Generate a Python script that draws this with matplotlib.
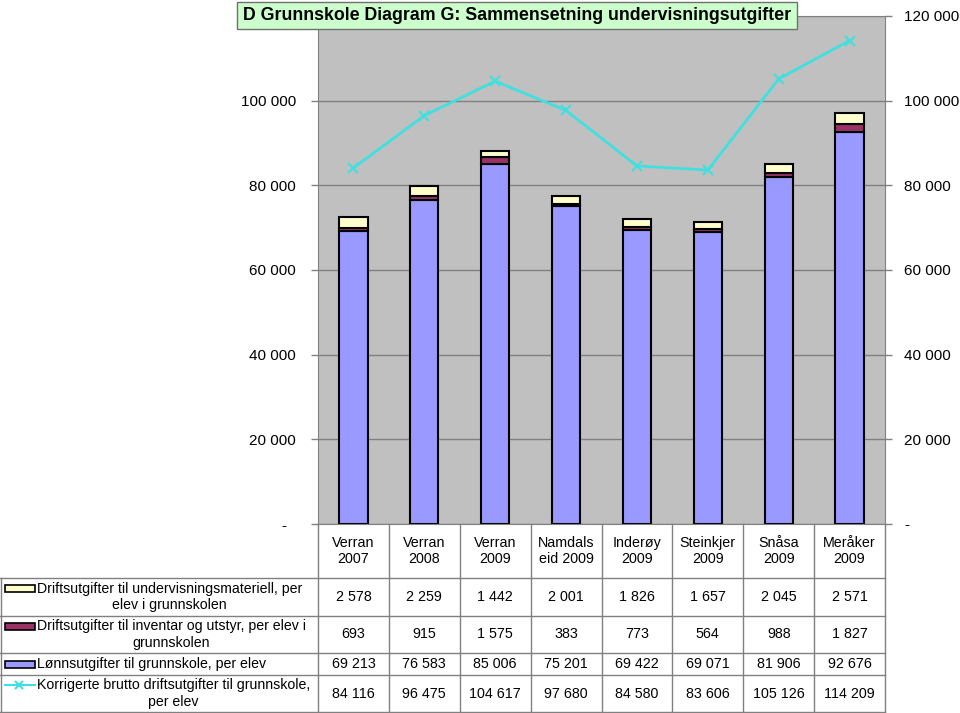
import numpy as np
import matplotlib as mpl
mpl.use('Agg')
import matplotlib.pyplot as plt
from matplotlib.patches import Rectangle

plt.rcParams['font.family'] = ['Liberation Sans', 'DejaVu Sans']

# data
categories = ["Verran\n2007", "Verran\n2008", "Verran\n2009", "Namdals\neid 2009",
              "Inderøy\n2009", "Steinkjer\n2009", "Snåsa\n2009", "Meråker\n2009"]
materiell = [2578, 2259, 1442, 2001, 1826, 1657, 2045, 2571]
inventar = [693, 915, 1575, 383, 773, 564, 988, 1827]
lonn = [69213, 76583, 85006, 75201, 69422, 69071, 81906, 92676]
korrigert = [84116, 96475, 104617, 97680, 84580, 83606, 105126, 114209]
series_names = ["Driftsutgifter til undervisningsmateriell, per\nelev i grunnskolen",
                "Driftsutgifter til inventar og utstyr, per elev i\ngrunnskolen",
                "Lønnsutgifter til grunnskole, per elev",
                "Korrigerte brutto driftsutgifter til grunnskole,\nper elev"]
yticks = [0, 20000, 40000, 60000, 80000, 100000, 120000]
title = "D Grunnskole Diagram G: Sammensetning undervisningsutgifter"

c_mat = '#ffffcc'
c_inv = '#993366'
c_lonn = '#9999ff'
c_line = '#40e0e0'
c_grid = '#808080'

W, H = 960, 713
fig = plt.figure(figsize=(9.6, 7.13), dpi=100)

# plot area in pixel terms
x0, x1, ytop, ybot = 318, 885, 16, 524
ax = fig.add_axes([x0 / W, 1 - ybot / H, (x1 - x0) / W, (ybot - ytop) / H])
ax.set_facecolor('#c0c0c0')

x = np.arange(len(categories))
lonn_a = np.array(lonn)
inv_a = np.array(inventar)
ax.bar(x, lonn, 0.4, color=c_lonn, edgecolor='black', lw=1.5, zorder=2)
ax.bar(x, inventar, 0.4, bottom=lonn_a, color=c_inv, edgecolor='black', lw=1.5, zorder=2)
ax.bar(x, materiell, 0.4, bottom=lonn_a + inv_a, color=c_mat, edgecolor='black', lw=1.5, zorder=2)
ax.plot(x, korrigert, color=c_line, lw=2, marker='x', ms=7, mew=1.5, zorder=3)

ax.set_xlim(-0.5, len(categories) - 0.5)
ax.set_ylim(0, 120000)
ax.set_xticks([])
ax.set_yticks(yticks)
ax.grid(axis='y', color=c_grid, lw=1, zorder=1)
for s in ax.spines.values():
    s.set_color(c_grid)


def fmt(v):
    return f"{v:,}".replace(",", " ")


left_labels = ["-  "] + [fmt(v) for v in yticks[1:-1]] + [""]
ax.set_yticklabels(left_labels)
ax.tick_params(axis='y', direction='out', length=5, color=c_grid, width=1,
               labelsize=11, pad=11)

ax2 = ax.twinx()
ax2.set_ylim(0, 120000)
ax2.set_yticks(yticks)
ax2.set_yticklabels(["-"] + [fmt(v) for v in yticks[1:]])
ax2.tick_params(axis='y', direction='out', length=5, color=c_grid, width=1,
                labelsize=11, pad=9)
for s in ax2.spines.values():
    s.set_visible(False)

# overlay in pixel coordinates for the title box and the data table
tab = fig.add_axes([0, 0, 1, 1])
tab.set_xlim(0, W)
tab.set_ylim(H, 0)
tab.axis('off')
tab.patch.set_visible(False)

tab.add_patch(Rectangle((237, 1.5), 560, 27, fc='#ccffcc', ec='#707070', lw=1))
tab.text(243, 15.5, title, fontsize=12.8, fontweight='bold', ha='left', va='center')

cw = (x1 - x0) / len(categories)
rows = [578, 616, 653, 675, 712]
tcol = '#808080'
for i in range(len(categories) + 1):
    tab.plot([x0 + i * cw, x0 + i * cw], [ybot, rows[-1]], color=tcol, lw=1)
for rr in rows:
    tab.plot([0, x1], [rr, rr], color=tcol, lw=1)
tab.plot([0.5, 0.5], [rows[0], rows[-1]], color=tcol, lw=1)

for i, lab in enumerate(categories):
    tab.text(x0 + (i + 0.5) * cw, (ybot + rows[0]) / 2, lab, fontsize=10.3,
             ha='center', va='center', multialignment='center')

values = [materiell, inventar, lonn, korrigert]
for k, vals in enumerate(values):
    yc = (rows[k] + rows[k + 1]) / 2
    for i, v in enumerate(vals):
        tab.text(x0 + (i + 0.5) * cw, yc, fmt(v), fontsize=10.3, ha='center', va='center')
    tab.text(37, yc, series_names[k], fontsize=10.2, ha='left', va='center',
             multialignment='center')
    yi = yc - 8.5 if '\n' in series_names[k] else yc
    if k < 3:
        col = [c_mat, c_inv, c_lonn][k]
        tab.add_patch(Rectangle((5, yi - 3.5), 30, 7, fc=col, ec='black', lw=1.2))
    else:
        tab.plot([5, 35], [yi, yi], color=c_line, lw=1.5)
        tab.plot([19], [yi], color=c_line, marker='x', ms=6, mew=1.5)

fig.savefig('out.png', dpi=100)
